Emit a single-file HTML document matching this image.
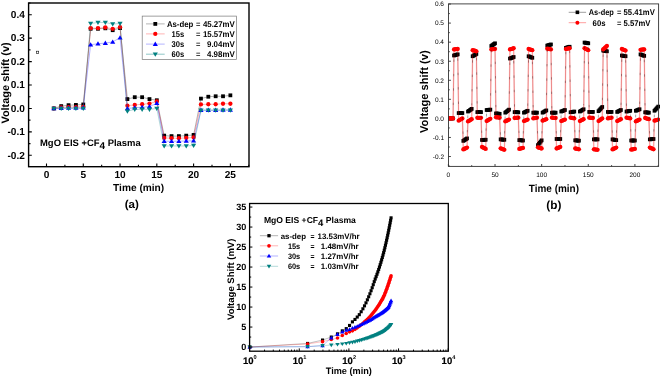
<!DOCTYPE html>
<html lang="en">
<head>
<meta charset="utf-8">
<title>Voltage shift figure</title>
<style>
html,body{margin:0;padding:0;background:#fff;}
body{width:660px;height:377px;overflow:hidden;}
svg{display:block;}
svg text{text-rendering:geometricPrecision;font-family:'Liberation Sans', Arial, sans-serif;font-weight:bold;fill:#000;}
</style>
</head>
<body>
<svg width="660" height="377" viewBox="0 0 660 377" font-family='"Liberation Sans", Arial, sans-serif'>
<rect width="660" height="377" fill="#fff"/>
<g filter="url(#soft)">
<filter id="soft" x="0" y="0" width="100%" height="100%" filterUnits="userSpaceOnUse"><feGaussianBlur stdDeviation="0.35"/></filter>
<path d="M53.86 108.45L61.21 106.11L68.56 105.17L75.92 104.94L83.28 104.47L90.63 28.79L97.98 28.79L105.34 28.32L112.7 30.19L120.05 28.09L127.41 99.08L134.76 97.2L142.12 97.2L149.47 99.08L156.82 100.25L164.18 135.63L171.54 136.1L178.89 136.1L186.25 135.63L193.6 134.93L200.96 98.61L208.31 96.73L215.67 96.27L223.02 96.27L230.38 95.33" fill="none" stroke="#000000" stroke-width="0.5" stroke-opacity="0.6"/>
<g><rect x="51.96" y="106.55" width="3.8" height="3.8" fill="#000000"/><rect x="59.31" y="104.21" width="3.8" height="3.8" fill="#000000"/><rect x="66.66" y="103.27" width="3.8" height="3.8" fill="#000000"/><rect x="74.02" y="103.04" width="3.8" height="3.8" fill="#000000"/><rect x="81.38" y="102.57" width="3.8" height="3.8" fill="#000000"/><rect x="88.73" y="26.89" width="3.8" height="3.8" fill="#000000"/><rect x="96.08" y="26.89" width="3.8" height="3.8" fill="#000000"/><rect x="103.44" y="26.42" width="3.8" height="3.8" fill="#000000"/><rect x="110.8" y="28.29" width="3.8" height="3.8" fill="#000000"/><rect x="118.15" y="26.19" width="3.8" height="3.8" fill="#000000"/><rect x="125.5" y="97.18" width="3.8" height="3.8" fill="#000000"/><rect x="132.86" y="95.3" width="3.8" height="3.8" fill="#000000"/><rect x="140.22" y="95.3" width="3.8" height="3.8" fill="#000000"/><rect x="147.57" y="97.18" width="3.8" height="3.8" fill="#000000"/><rect x="154.92" y="98.35" width="3.8" height="3.8" fill="#000000"/><rect x="162.28" y="133.73" width="3.8" height="3.8" fill="#000000"/><rect x="169.64" y="134.2" width="3.8" height="3.8" fill="#000000"/><rect x="176.99" y="134.2" width="3.8" height="3.8" fill="#000000"/><rect x="184.34" y="133.73" width="3.8" height="3.8" fill="#000000"/><rect x="191.7" y="133.03" width="3.8" height="3.8" fill="#000000"/><rect x="199.06" y="96.71" width="3.8" height="3.8" fill="#000000"/><rect x="206.41" y="94.83" width="3.8" height="3.8" fill="#000000"/><rect x="213.77" y="94.37" width="3.8" height="3.8" fill="#000000"/><rect x="221.12" y="94.37" width="3.8" height="3.8" fill="#000000"/><rect x="228.47" y="93.43" width="3.8" height="3.8" fill="#000000"/></g>
<path d="M53.86 108.45L61.21 107.51L68.56 107.04L75.92 107.04L83.28 106.81L90.63 28.2L97.98 28.2L105.34 27.5L112.7 28.79L120.05 27.15L127.41 105.64L134.76 104.94L142.12 104.23L149.47 103.53L156.82 101.42L164.18 137.97L171.54 138.21L178.89 138.21L186.25 137.97L193.6 137.5L200.96 104.47L208.31 104.23L215.67 104.23L223.02 103.76L230.38 103.76" fill="none" stroke="#ff0000" stroke-width="0.5" stroke-opacity="0.6"/>
<g><circle cx="53.86" cy="108.45" r="2.15" fill="#ff0000"/><circle cx="61.21" cy="107.51" r="2.15" fill="#ff0000"/><circle cx="68.56" cy="107.04" r="2.15" fill="#ff0000"/><circle cx="75.92" cy="107.04" r="2.15" fill="#ff0000"/><circle cx="83.28" cy="106.81" r="2.15" fill="#ff0000"/><circle cx="90.63" cy="28.2" r="2.15" fill="#ff0000"/><circle cx="97.98" cy="28.2" r="2.15" fill="#ff0000"/><circle cx="105.34" cy="27.5" r="2.15" fill="#ff0000"/><circle cx="112.7" cy="28.79" r="2.15" fill="#ff0000"/><circle cx="120.05" cy="27.15" r="2.15" fill="#ff0000"/><circle cx="127.41" cy="105.64" r="2.15" fill="#ff0000"/><circle cx="134.76" cy="104.94" r="2.15" fill="#ff0000"/><circle cx="142.12" cy="104.23" r="2.15" fill="#ff0000"/><circle cx="149.47" cy="103.53" r="2.15" fill="#ff0000"/><circle cx="156.82" cy="101.42" r="2.15" fill="#ff0000"/><circle cx="164.18" cy="137.97" r="2.15" fill="#ff0000"/><circle cx="171.54" cy="138.21" r="2.15" fill="#ff0000"/><circle cx="178.89" cy="138.21" r="2.15" fill="#ff0000"/><circle cx="186.25" cy="137.97" r="2.15" fill="#ff0000"/><circle cx="193.6" cy="137.5" r="2.15" fill="#ff0000"/><circle cx="200.96" cy="104.47" r="2.15" fill="#ff0000"/><circle cx="208.31" cy="104.23" r="2.15" fill="#ff0000"/><circle cx="215.67" cy="104.23" r="2.15" fill="#ff0000"/><circle cx="223.02" cy="103.76" r="2.15" fill="#ff0000"/><circle cx="230.38" cy="103.76" r="2.15" fill="#ff0000"/></g>
<path d="M53.86 108.45L61.21 108.22L68.56 107.98L75.92 107.98L83.28 107.75L90.63 44.72L97.98 43.78L105.34 43.08L112.7 41.91L120.05 37.69L127.41 108.45L134.76 107.75L142.12 107.28L149.47 106.58L156.82 103.3L164.18 141.25L171.54 141.25L178.89 141.25L186.25 141.02L193.6 140.78L200.96 110.09L208.31 110.09L215.67 110.09L223.02 109.86L230.38 109.86" fill="none" stroke="#0000ff" stroke-width="0.5" stroke-opacity="0.6"/>
<g><path d="M51.28 110.26h5.16L53.86 105.96Z" fill="#0000ff"/><path d="M58.63 110.02h5.16L61.21 105.72Z" fill="#0000ff"/><path d="M65.98 109.79h5.16L68.56 105.49Z" fill="#0000ff"/><path d="M73.34 109.79h5.16L75.92 105.49Z" fill="#0000ff"/><path d="M80.7 109.55h5.16L83.28 105.25Z" fill="#0000ff"/><path d="M88.05 46.53h5.16L90.63 42.23Z" fill="#0000ff"/><path d="M95.41 45.59h5.16L97.98 41.29Z" fill="#0000ff"/><path d="M102.76 44.89h5.16L105.34 40.59Z" fill="#0000ff"/><path d="M110.12 43.71h5.16L112.7 39.41Z" fill="#0000ff"/><path d="M117.47 39.5h5.16L120.05 35.2Z" fill="#0000ff"/><path d="M124.83 110.26h5.16L127.41 105.96Z" fill="#0000ff"/><path d="M132.18 109.55h5.16L134.76 105.25Z" fill="#0000ff"/><path d="M139.53 109.08h5.16L142.12 104.78Z" fill="#0000ff"/><path d="M146.89 108.38h5.16L149.47 104.08Z" fill="#0000ff"/><path d="M154.24 105.1h5.16L156.82 100.8Z" fill="#0000ff"/><path d="M161.6 143.06h5.16L164.18 138.76Z" fill="#0000ff"/><path d="M168.96 143.06h5.16L171.54 138.76Z" fill="#0000ff"/><path d="M176.31 143.06h5.16L178.89 138.76Z" fill="#0000ff"/><path d="M183.66 142.82h5.16L186.25 138.52Z" fill="#0000ff"/><path d="M191.02 142.59h5.16L193.6 138.29Z" fill="#0000ff"/><path d="M198.38 111.9h5.16L200.96 107.6Z" fill="#0000ff"/><path d="M205.73 111.9h5.16L208.31 107.6Z" fill="#0000ff"/><path d="M213.09 111.9h5.16L215.67 107.6Z" fill="#0000ff"/><path d="M220.44 111.66h5.16L223.02 107.36Z" fill="#0000ff"/><path d="M227.79 111.66h5.16L230.38 107.36Z" fill="#0000ff"/></g>
<path d="M53.86 108.45L61.21 108.45L68.56 108.45L75.92 108.45L83.28 108.45L90.63 23.49L97.98 22.46L105.34 22.46L112.7 24.1L120.05 23.49L127.41 111.26L134.76 109.39L142.12 109.39L149.47 109.39L156.82 108.45L164.18 145.94L171.54 145.94L178.89 145.94L186.25 145.94L193.6 145.47L200.96 110.32L208.31 110.32L215.67 110.32L223.02 110.32L230.38 110.32" fill="none" stroke="#008080" stroke-width="0.5" stroke-opacity="0.6"/>
<g><path d="M51.28 106.64h5.16L53.86 110.94Z" fill="#008080"/><path d="M58.63 106.64h5.16L61.21 110.94Z" fill="#008080"/><path d="M65.98 106.64h5.16L68.56 110.94Z" fill="#008080"/><path d="M73.34 106.64h5.16L75.92 110.94Z" fill="#008080"/><path d="M80.7 106.64h5.16L83.28 110.94Z" fill="#008080"/><path d="M88.05 21.69h5.16L90.63 25.99Z" fill="#008080"/><path d="M95.41 20.66h5.16L97.98 24.96Z" fill="#008080"/><path d="M102.76 20.66h5.16L105.34 24.96Z" fill="#008080"/><path d="M110.12 22.3h5.16L112.7 26.6Z" fill="#008080"/><path d="M117.47 21.69h5.16L120.05 25.99Z" fill="#008080"/><path d="M124.83 109.46h5.16L127.41 113.76Z" fill="#008080"/><path d="M132.18 107.58h5.16L134.76 111.88Z" fill="#008080"/><path d="M139.53 107.58h5.16L142.12 111.88Z" fill="#008080"/><path d="M146.89 107.58h5.16L149.47 111.88Z" fill="#008080"/><path d="M154.24 106.64h5.16L156.82 110.94Z" fill="#008080"/><path d="M161.6 144.13h5.16L164.18 148.43Z" fill="#008080"/><path d="M168.96 144.13h5.16L171.54 148.43Z" fill="#008080"/><path d="M176.31 144.13h5.16L178.89 148.43Z" fill="#008080"/><path d="M183.66 144.13h5.16L186.25 148.43Z" fill="#008080"/><path d="M191.02 143.66h5.16L193.6 147.96Z" fill="#008080"/><path d="M198.38 108.52h5.16L200.96 112.82Z" fill="#008080"/><path d="M205.73 108.52h5.16L208.31 112.82Z" fill="#008080"/><path d="M213.09 108.52h5.16L215.67 112.82Z" fill="#008080"/><path d="M220.44 108.52h5.16L223.02 112.82Z" fill="#008080"/><path d="M227.79 108.52h5.16L230.38 112.82Z" fill="#008080"/></g>
<rect x="28.6" y="3.0" width="220.4" height="163.7" fill="none" stroke="#000" stroke-width="1.4"/>
<text x="24.9" y="158.61" font-size="10.1" text-anchor="end">-0.2</text>
<text x="24.9" y="135.18" font-size="10.1" text-anchor="end">-0.1</text>
<text x="24.9" y="111.75" font-size="10.1" text-anchor="end">0.0</text>
<text x="24.9" y="88.32" font-size="10.1" text-anchor="end">0.1</text>
<text x="24.9" y="64.89" font-size="10.1" text-anchor="end">0.2</text>
<text x="24.9" y="41.46" font-size="10.1" text-anchor="end">0.3</text>
<text x="24.9" y="18.03" font-size="10.1" text-anchor="end">0.4</text>
<text x="46.5" y="178.2" font-size="10.1" text-anchor="middle">0</text>
<text x="83.28" y="178.2" font-size="10.1" text-anchor="middle">5</text>
<text x="120.05" y="178.2" font-size="10.1" text-anchor="middle">10</text>
<text x="156.82" y="178.2" font-size="10.1" text-anchor="middle">15</text>
<text x="193.6" y="178.2" font-size="10.1" text-anchor="middle">20</text>
<text x="230.38" y="178.2" font-size="10.1" text-anchor="middle">25</text>
<path d="M28.6 155.31h3.2M28.6 131.88h3.2M28.6 108.45h3.2M28.6 85.02h3.2M28.6 61.59h3.2M28.6 38.16h3.2M28.6 14.73h3.2M28.6 143.6h1.9M28.6 120.17h1.9M28.6 96.73h1.9M28.6 73.3h1.9M28.6 49.88h1.9M28.6 26.45h1.9M28.6 3.02h1.9M46.5 166.7v-3.2M83.28 166.7v-3.2M120.05 166.7v-3.2M156.82 166.7v-3.2M193.6 166.7v-3.2M230.38 166.7v-3.2M64.89 166.7v-1.9M101.66 166.7v-1.9M138.44 166.7v-1.9M175.21 166.7v-1.9M211.99 166.7v-1.9M248.76 166.7v-1.9" stroke="#000" stroke-width="1.1" fill="none"/>
<text x="113.1" y="191.2" font-size="10.1" textLength="51.1" lengthAdjust="spacingAndGlyphs">Time (min)</text>
<text x="9.4" y="123.6" font-size="10.8" textLength="81.3" lengthAdjust="spacingAndGlyphs" transform="rotate(-90 9.4 123.6)">Voltage shift (v)</text>
<text x="124.7" y="208.3" font-size="11.4" textLength="14.2" lengthAdjust="spacingAndGlyphs">(a)</text>
<text x="40.0" y="145.5" font-size="9.45">MgO EIS +CF<tspan dy="3.3" font-size="10">4</tspan><tspan dy="-3.3"> Plasma</tspan></text>
<rect x="36.5" y="51.2" width="2.2" height="2.2" fill="#fff" stroke="#111" stroke-width="0.6"/>
<rect x="142.2" y="16.1" width="94.2" height="43.3" fill="#fff" stroke="#777" stroke-width="0.7"/>
<path d="M146 23.9H164.7" stroke="#000000" stroke-width="0.6" stroke-opacity="0.5"/>
<rect x="153.4" y="22" width="3.8" height="3.8" fill="#000000"/>
<text x="166.9" y="26.7" font-size="8.4" textLength="26.4" lengthAdjust="spacingAndGlyphs">As-dep</text>
<text x="195.9" y="26.7" font-size="8.4" textLength="4.4" lengthAdjust="spacingAndGlyphs">=</text>
<text x="202.9" y="26.7" font-size="8.4" textLength="31.9" lengthAdjust="spacingAndGlyphs">45.27mV</text>
<path d="M146 33.9H164.7" stroke="#ff0000" stroke-width="0.6" stroke-opacity="0.5"/>
<circle cx="155.3" cy="33.9" r="2.15" fill="#ff0000"/>
<text x="171.5" y="36.7" font-size="8.4" textLength="12.7" lengthAdjust="spacingAndGlyphs">15s</text>
<text x="195.9" y="36.7" font-size="8.4" textLength="4.4" lengthAdjust="spacingAndGlyphs">=</text>
<text x="202.9" y="36.7" font-size="8.4" textLength="31.9" lengthAdjust="spacingAndGlyphs">15.57mV</text>
<path d="M146 44.1H164.7" stroke="#0000ff" stroke-width="0.6" stroke-opacity="0.5"/>
<path d="M152.72 45.91h5.16L155.3 41.61Z" fill="#0000ff"/>
<text x="171.5" y="46.9" font-size="8.4" textLength="12.7" lengthAdjust="spacingAndGlyphs">30s</text>
<text x="195.9" y="46.9" font-size="8.4" textLength="4.4" lengthAdjust="spacingAndGlyphs">=</text>
<text x="207" y="46.9" font-size="8.4" textLength="27.8" lengthAdjust="spacingAndGlyphs">9.04mV</text>
<path d="M146 54.2H164.7" stroke="#008080" stroke-width="0.6" stroke-opacity="0.75"/>
<path d="M152.72 52.39h5.16L155.3 56.69Z" fill="#008080"/>
<text x="171.5" y="57" font-size="8.4" textLength="12.7" lengthAdjust="spacingAndGlyphs">60s</text>
<text x="195.9" y="57" font-size="8.4" textLength="4.4" lengthAdjust="spacingAndGlyphs">=</text>
<text x="207" y="57" font-size="8.4" textLength="27.8" lengthAdjust="spacingAndGlyphs">4.98mV</text>
<text x="444" y="158.82" font-size="6.5" text-anchor="end" style="font-weight:normal" fill="#111">-0.2</text>
<text x="444" y="139.76" font-size="6.5" text-anchor="end" style="font-weight:normal" fill="#111">-0.1</text>
<text x="444" y="120.7" font-size="6.5" text-anchor="end" style="font-weight:normal" fill="#111">0.0</text>
<text x="444" y="101.64" font-size="6.5" text-anchor="end" style="font-weight:normal" fill="#111">0.1</text>
<text x="444" y="82.58" font-size="6.5" text-anchor="end" style="font-weight:normal" fill="#111">0.2</text>
<text x="444" y="63.52" font-size="6.5" text-anchor="end" style="font-weight:normal" fill="#111">0.3</text>
<text x="444" y="44.46" font-size="6.5" text-anchor="end" style="font-weight:normal" fill="#111">0.4</text>
<text x="444" y="25.4" font-size="6.5" text-anchor="end" style="font-weight:normal" fill="#111">0.5</text>
<text x="444" y="6.34" font-size="6.5" text-anchor="end" style="font-weight:normal" fill="#111">0.6</text>
<text x="448.4" y="177.1" font-size="6.5" text-anchor="middle" style="font-weight:normal" fill="#111">0</text>
<text x="495.02" y="177.1" font-size="6.5" text-anchor="middle" style="font-weight:normal" fill="#111">50</text>
<text x="541.65" y="177.1" font-size="6.5" text-anchor="middle" style="font-weight:normal" fill="#111">100</text>
<text x="588.27" y="177.1" font-size="6.5" text-anchor="middle" style="font-weight:normal" fill="#111">150</text>
<text x="634.9" y="177.1" font-size="6.5" text-anchor="middle" style="font-weight:normal" fill="#111">200</text>
<path d="M448.5 156.52h2.4M448.5 137.46h2.4M448.5 118.4h2.4M448.5 99.34h2.4M448.5 80.28h2.4M448.5 61.22h2.4M448.5 42.16h2.4M448.5 23.1h2.4M448.5 4.04h2.4M448.5 166.05h1.3M448.5 146.99h1.3M448.5 127.93h1.3M448.5 108.87h1.3M448.5 89.81h1.3M448.5 70.75h1.3M448.5 51.69h1.3M448.5 32.63h1.3M448.5 13.57h1.3M448.4 166.4v-2.4M495.02 166.4v-2.4M541.65 166.4v-2.4M588.27 166.4v-2.4M634.9 166.4v-2.4M471.71 166.4v-1.3M518.34 166.4v-1.3M564.96 166.4v-1.3M611.59 166.4v-1.3M658.21 166.4v-1.3" stroke="#222" stroke-width="0.85" fill="none"/>
<clipPath id="cb"><rect x="448.5" y="3.9" width="211.6" height="162.5"/></clipPath><g clip-path="url(#cb)">
<path d="M448.4 118.4L449.33 118.4L450.26 118.4L451.2 118.4L452.13 118.4L453.06 118.4L454 49.4L454.93 49.31L455.86 49.21L456.79 49.12L457.72 49.02L458.66 120.69L459.59 120.12L460.52 119.54L461.45 118.97L462.39 118.4L463.32 149.47L464.25 148.99L465.19 148.51L466.12 148.04L467.05 147.56L467.98 121.45L468.91 120.88L469.85 120.31L470.78 119.73L471.71 119.16L472.64 50.17L473.58 50.45L474.51 50.74L475.44 51.02L476.38 51.31L477.31 117.83L478.24 117.83L479.17 117.83L480.1 117.83L481.04 117.83L481.97 146.99L482.9 147.47L483.83 147.94L484.77 148.42L485.7 148.9L486.63 121.07L487.56 120.5L488.5 119.92L489.43 119.35L490.36 118.78L491.29 49.4L492.23 49.31L493.16 49.21L494.09 49.12L495.02 49.02L495.96 117.26L496.89 117.35L497.82 117.45L498.75 117.54L499.69 117.64L500.62 148.32L501.55 148.71L502.48 149.09L503.42 149.47L504.35 149.85L505.28 121.45L506.21 120.97L507.15 120.5L508.08 120.02L509.01 119.54L509.94 49.4L510.88 49.12L511.81 48.83L512.74 48.55L513.67 48.26L514.61 118.02L515.54 117.92L516.47 117.83L517.4 117.73L518.34 117.64L519.27 148.9L520.2 148.66L521.13 148.42L522.07 148.18L523 147.94L523.93 121.07L524.87 120.69L525.8 120.31L526.73 119.92L527.66 119.54L528.6 49.02L529.53 49.31L530.46 49.59L531.39 49.88L532.32 50.17L533.26 118.4L534.19 118.21L535.12 118.02L536.05 117.83L536.99 117.64L537.92 147.37L538.85 147.66L539.78 147.94L540.72 148.23L541.65 148.51L542.58 120.69L543.51 120.31L544.45 119.92L545.38 119.54L546.31 119.16L547.25 48.64L548.18 48.83L549.11 49.02L550.04 49.21L550.98 49.4L551.91 117.64L552.84 117.73L553.77 117.83L554.7 117.92L555.64 118.02L556.57 148.51L557.5 148.13L558.43 147.75L559.37 147.37L560.3 146.99L561.23 121.07L562.16 120.69L563.1 120.31L564.03 119.92L564.96 119.54L565.89 49.02L566.83 48.83L567.76 48.64L568.69 48.45L569.62 48.26L570.56 117.64L571.49 117.83L572.42 118.02L573.36 118.21L574.29 118.4L575.22 148.51L576.15 148.71L577.09 148.9L578.02 149.09L578.95 149.28L579.88 121.07L580.81 120.59L581.75 120.12L582.68 119.64L583.61 119.16L584.54 48.26L585.48 48.74L586.41 49.21L587.34 49.69L588.27 50.17L589.21 117.64L590.14 117.73L591.07 117.83L592 117.92L592.94 118.02L593.87 149.28L594.8 149.42L595.74 149.56L596.67 149.71L597.6 149.85L598.53 121.07L599.46 120.4L600.4 119.73L601.33 119.07L602.26 118.4L603.19 49.4L604.13 48.55L605.06 47.69L605.99 46.83L606.92 45.97L607.86 118.4L608.79 118.21L609.72 118.02L610.65 117.83L611.59 117.64L612.52 149.47L613.45 148.99L614.38 148.51L615.32 148.04L616.25 147.56L617.18 121.07L618.12 120.59L619.05 120.12L619.98 119.64L620.91 119.16L621.85 49.02L622.78 49.4L623.71 49.78L624.64 50.17L625.58 50.55L626.51 117.64L627.44 117.83L628.37 118.02L629.3 118.21L630.24 118.4L631.17 149.66L632.1 149.47L633.03 149.28L633.97 149.09L634.9 148.9L635.83 121.45L636.76 120.97L637.7 120.5L638.63 120.02L639.56 119.54L640.5 49.78L641.43 49.69L642.36 49.59L643.29 49.5L644.22 49.4L645.16 118.02L646.09 118.3L647.02 118.59L647.95 118.88L648.89 119.16L649.82 147.56L650.75 147.99L651.68 148.42L652.62 148.85L653.55 149.28L654.48 120.69L655.41 120.4L656.35 120.12L657.28 119.83L658.21 119.54" fill="none" stroke="#f00" stroke-width="1.6" stroke-opacity="0.16"/>
<path d="M448.4 118.4L449.33 118.4L450.26 118.4L451.2 118.4L452.13 118.4L453.06 118.4L454 55.5L454.93 55.22L455.86 54.93L456.79 54.64L457.72 54.36L458.66 113.06L459.59 113.06L460.52 113.06L461.45 113.06L462.39 113.06L463.32 140.89L464.25 140.27L465.19 139.65L466.12 139.03L467.05 138.41L467.98 111.54L468.91 110.87L469.85 110.2L470.78 109.54L471.71 108.87L472.64 56.26L473.58 55.69L474.51 55.12L475.44 54.55L476.38 53.98L477.31 112.11L478.24 112.11L479.17 112.11L480.1 112.11L481.04 112.11L481.97 139.94L482.9 139.89L483.83 139.84L484.77 139.79L485.7 139.75L486.63 110.01L487.56 109.92L488.5 109.82L489.43 109.73L490.36 109.63L491.29 45.97L492.23 45.3L493.16 44.64L494.09 43.97L495.02 43.3L495.96 113.44L496.89 113.54L497.82 113.64L498.75 113.73L499.69 113.83L500.62 139.37L501.55 139.46L502.48 139.56L503.42 139.65L504.35 139.75L505.28 112.68L506.21 111.92L507.15 111.16L508.08 110.39L509.01 109.63L509.94 58.55L510.88 58.17L511.81 57.79L512.74 57.41L513.67 57.03L514.61 112.11L515.54 112.16L516.47 112.21L517.4 112.25L518.34 112.3L519.27 140.13L520.2 140.22L521.13 140.32L522.07 140.41L523 140.51L523.93 112.68L524.87 112.21L525.8 111.73L526.73 111.25L527.66 110.78L528.6 56.26L529.53 56.65L530.46 57.03L531.39 57.41L532.32 57.79L533.26 112.68L534.19 112.68L535.12 112.68L536.05 112.68L536.99 112.68L537.92 145.08L538.85 143.89L539.78 142.7L540.72 141.51L541.65 140.32L542.58 112.68L543.51 112.11L544.45 111.54L545.38 110.97L546.31 110.39L547.25 45.59L548.18 45.3L549.11 45.02L550.04 44.73L550.98 44.45L551.91 112.68L552.84 112.68L553.77 112.68L554.7 112.68L555.64 112.68L556.57 138.98L557.5 138.98L558.43 138.98L559.37 138.98L560.3 138.98L561.23 111.54L562.16 111.16L563.1 110.78L564.03 110.39L564.96 110.01L565.89 47.88L566.83 47.59L567.76 47.31L568.69 47.02L569.62 46.73L570.56 112.3L571.49 112.11L572.42 111.92L573.36 111.73L574.29 111.54L575.22 140.32L576.15 140.41L577.09 140.51L578.02 140.6L578.95 140.7L579.88 111.54L580.81 110.97L581.75 110.39L582.68 109.82L583.61 109.25L584.54 42.54L585.48 42.73L586.41 42.92L587.34 43.11L588.27 43.3L589.21 111.92L590.14 111.92L591.07 111.92L592 111.92L592.94 111.92L593.87 139.37L594.8 139.37L595.74 139.37L596.67 139.37L597.6 139.37L598.53 111.16L599.46 110.11L600.4 109.06L601.33 108.01L602.26 106.96L603.19 50.55L604.13 50.74L605.06 50.93L605.99 51.12L606.92 51.31L607.86 111.92L608.79 111.92L609.72 111.92L610.65 111.92L611.59 111.92L612.52 139.37L613.45 139.56L614.38 139.75L615.32 139.94L616.25 140.13L617.18 111.92L618.12 111.44L619.05 110.97L619.98 110.49L620.91 110.01L621.85 55.5L622.78 55.69L623.71 55.88L624.64 56.07L625.58 56.26L626.51 111.54L627.44 111.35L628.37 111.16L629.3 110.97L630.24 110.78L631.17 140.51L632.1 140.51L633.03 140.51L633.97 140.51L634.9 140.51L635.83 110.78L636.76 110.39L637.7 110.01L638.63 109.63L639.56 109.25L640.5 54.36L641.43 54.74L642.36 55.12L643.29 55.5L644.22 55.88L645.16 112.3L646.09 112.4L647.02 112.49L647.95 112.59L648.89 112.68L649.82 139.37L650.75 139.27L651.68 139.18L652.62 139.08L653.55 138.98L654.48 110.78L655.41 109.73L656.35 108.68L657.28 107.63L658.21 106.58" fill="none" stroke="#000000" stroke-width="0.35" stroke-opacity="0.3"/>
<g><rect x="446.55" y="116.55" width="3.7" height="3.7" fill="#000000"/><rect x="447.48" y="116.55" width="3.7" height="3.7" fill="#000000"/><rect x="448.41" y="116.55" width="3.7" height="3.7" fill="#000000"/><rect x="449.35" y="116.55" width="3.7" height="3.7" fill="#000000"/><rect x="450.28" y="116.55" width="3.7" height="3.7" fill="#000000"/><rect x="451.21" y="116.55" width="3.7" height="3.7" fill="#000000"/><rect x="452.14" y="53.65" width="3.7" height="3.7" fill="#000000"/><rect x="453.08" y="53.37" width="3.7" height="3.7" fill="#000000"/><rect x="454.01" y="53.08" width="3.7" height="3.7" fill="#000000"/><rect x="454.94" y="52.79" width="3.7" height="3.7" fill="#000000"/><rect x="455.87" y="52.51" width="3.7" height="3.7" fill="#000000"/><rect x="456.81" y="111.21" width="3.7" height="3.7" fill="#000000"/><rect x="457.74" y="111.21" width="3.7" height="3.7" fill="#000000"/><rect x="458.67" y="111.21" width="3.7" height="3.7" fill="#000000"/><rect x="459.6" y="111.21" width="3.7" height="3.7" fill="#000000"/><rect x="460.54" y="111.21" width="3.7" height="3.7" fill="#000000"/><rect x="461.47" y="139.04" width="3.7" height="3.7" fill="#000000"/><rect x="462.4" y="138.42" width="3.7" height="3.7" fill="#000000"/><rect x="463.33" y="137.8" width="3.7" height="3.7" fill="#000000"/><rect x="464.27" y="137.18" width="3.7" height="3.7" fill="#000000"/><rect x="465.2" y="136.56" width="3.7" height="3.7" fill="#000000"/><rect x="466.13" y="109.69" width="3.7" height="3.7" fill="#000000"/><rect x="467.06" y="109.02" width="3.7" height="3.7" fill="#000000"/><rect x="468" y="108.35" width="3.7" height="3.7" fill="#000000"/><rect x="468.93" y="107.69" width="3.7" height="3.7" fill="#000000"/><rect x="469.86" y="107.02" width="3.7" height="3.7" fill="#000000"/><rect x="470.79" y="54.41" width="3.7" height="3.7" fill="#000000"/><rect x="471.73" y="53.84" width="3.7" height="3.7" fill="#000000"/><rect x="472.66" y="53.27" width="3.7" height="3.7" fill="#000000"/><rect x="473.59" y="52.7" width="3.7" height="3.7" fill="#000000"/><rect x="474.52" y="52.13" width="3.7" height="3.7" fill="#000000"/><rect x="475.46" y="110.26" width="3.7" height="3.7" fill="#000000"/><rect x="476.39" y="110.26" width="3.7" height="3.7" fill="#000000"/><rect x="477.32" y="110.26" width="3.7" height="3.7" fill="#000000"/><rect x="478.25" y="110.26" width="3.7" height="3.7" fill="#000000"/><rect x="479.19" y="110.26" width="3.7" height="3.7" fill="#000000"/><rect x="480.12" y="138.09" width="3.7" height="3.7" fill="#000000"/><rect x="481.05" y="138.04" width="3.7" height="3.7" fill="#000000"/><rect x="481.98" y="137.99" width="3.7" height="3.7" fill="#000000"/><rect x="482.92" y="137.94" width="3.7" height="3.7" fill="#000000"/><rect x="483.85" y="137.9" width="3.7" height="3.7" fill="#000000"/><rect x="484.78" y="108.16" width="3.7" height="3.7" fill="#000000"/><rect x="485.71" y="108.07" width="3.7" height="3.7" fill="#000000"/><rect x="486.65" y="107.97" width="3.7" height="3.7" fill="#000000"/><rect x="487.58" y="107.88" width="3.7" height="3.7" fill="#000000"/><rect x="488.51" y="107.78" width="3.7" height="3.7" fill="#000000"/><rect x="489.44" y="44.12" width="3.7" height="3.7" fill="#000000"/><rect x="490.38" y="43.45" width="3.7" height="3.7" fill="#000000"/><rect x="491.31" y="42.79" width="3.7" height="3.7" fill="#000000"/><rect x="492.24" y="42.12" width="3.7" height="3.7" fill="#000000"/><rect x="493.17" y="41.45" width="3.7" height="3.7" fill="#000000"/><rect x="494.11" y="111.59" width="3.7" height="3.7" fill="#000000"/><rect x="495.04" y="111.69" width="3.7" height="3.7" fill="#000000"/><rect x="495.97" y="111.79" width="3.7" height="3.7" fill="#000000"/><rect x="496.9" y="111.88" width="3.7" height="3.7" fill="#000000"/><rect x="497.84" y="111.98" width="3.7" height="3.7" fill="#000000"/><rect x="498.77" y="137.52" width="3.7" height="3.7" fill="#000000"/><rect x="499.7" y="137.61" width="3.7" height="3.7" fill="#000000"/><rect x="500.63" y="137.71" width="3.7" height="3.7" fill="#000000"/><rect x="501.57" y="137.8" width="3.7" height="3.7" fill="#000000"/><rect x="502.5" y="137.9" width="3.7" height="3.7" fill="#000000"/><rect x="503.43" y="110.83" width="3.7" height="3.7" fill="#000000"/><rect x="504.36" y="110.07" width="3.7" height="3.7" fill="#000000"/><rect x="505.3" y="109.31" width="3.7" height="3.7" fill="#000000"/><rect x="506.23" y="108.54" width="3.7" height="3.7" fill="#000000"/><rect x="507.16" y="107.78" width="3.7" height="3.7" fill="#000000"/><rect x="508.09" y="56.7" width="3.7" height="3.7" fill="#000000"/><rect x="509.03" y="56.32" width="3.7" height="3.7" fill="#000000"/><rect x="509.96" y="55.94" width="3.7" height="3.7" fill="#000000"/><rect x="510.89" y="55.56" width="3.7" height="3.7" fill="#000000"/><rect x="511.82" y="55.18" width="3.7" height="3.7" fill="#000000"/><rect x="512.76" y="110.26" width="3.7" height="3.7" fill="#000000"/><rect x="513.69" y="110.31" width="3.7" height="3.7" fill="#000000"/><rect x="514.62" y="110.36" width="3.7" height="3.7" fill="#000000"/><rect x="515.55" y="110.4" width="3.7" height="3.7" fill="#000000"/><rect x="516.49" y="110.45" width="3.7" height="3.7" fill="#000000"/><rect x="517.42" y="138.28" width="3.7" height="3.7" fill="#000000"/><rect x="518.35" y="138.37" width="3.7" height="3.7" fill="#000000"/><rect x="519.28" y="138.47" width="3.7" height="3.7" fill="#000000"/><rect x="520.22" y="138.56" width="3.7" height="3.7" fill="#000000"/><rect x="521.15" y="138.66" width="3.7" height="3.7" fill="#000000"/><rect x="522.08" y="110.83" width="3.7" height="3.7" fill="#000000"/><rect x="523.01" y="110.36" width="3.7" height="3.7" fill="#000000"/><rect x="523.95" y="109.88" width="3.7" height="3.7" fill="#000000"/><rect x="524.88" y="109.4" width="3.7" height="3.7" fill="#000000"/><rect x="525.81" y="108.93" width="3.7" height="3.7" fill="#000000"/><rect x="526.75" y="54.41" width="3.7" height="3.7" fill="#000000"/><rect x="527.68" y="54.8" width="3.7" height="3.7" fill="#000000"/><rect x="528.61" y="55.18" width="3.7" height="3.7" fill="#000000"/><rect x="529.54" y="55.56" width="3.7" height="3.7" fill="#000000"/><rect x="530.47" y="55.94" width="3.7" height="3.7" fill="#000000"/><rect x="531.41" y="110.83" width="3.7" height="3.7" fill="#000000"/><rect x="532.34" y="110.83" width="3.7" height="3.7" fill="#000000"/><rect x="533.27" y="110.83" width="3.7" height="3.7" fill="#000000"/><rect x="534.2" y="110.83" width="3.7" height="3.7" fill="#000000"/><rect x="535.14" y="110.83" width="3.7" height="3.7" fill="#000000"/><rect x="536.07" y="143.23" width="3.7" height="3.7" fill="#000000"/><rect x="537" y="142.04" width="3.7" height="3.7" fill="#000000"/><rect x="537.93" y="140.85" width="3.7" height="3.7" fill="#000000"/><rect x="538.87" y="139.66" width="3.7" height="3.7" fill="#000000"/><rect x="539.8" y="138.47" width="3.7" height="3.7" fill="#000000"/><rect x="540.73" y="110.83" width="3.7" height="3.7" fill="#000000"/><rect x="541.66" y="110.26" width="3.7" height="3.7" fill="#000000"/><rect x="542.6" y="109.69" width="3.7" height="3.7" fill="#000000"/><rect x="543.53" y="109.12" width="3.7" height="3.7" fill="#000000"/><rect x="544.46" y="108.54" width="3.7" height="3.7" fill="#000000"/><rect x="545.39" y="43.74" width="3.7" height="3.7" fill="#000000"/><rect x="546.33" y="43.45" width="3.7" height="3.7" fill="#000000"/><rect x="547.26" y="43.17" width="3.7" height="3.7" fill="#000000"/><rect x="548.19" y="42.88" width="3.7" height="3.7" fill="#000000"/><rect x="549.12" y="42.6" width="3.7" height="3.7" fill="#000000"/><rect x="550.06" y="110.83" width="3.7" height="3.7" fill="#000000"/><rect x="550.99" y="110.83" width="3.7" height="3.7" fill="#000000"/><rect x="551.92" y="110.83" width="3.7" height="3.7" fill="#000000"/><rect x="552.85" y="110.83" width="3.7" height="3.7" fill="#000000"/><rect x="553.79" y="110.83" width="3.7" height="3.7" fill="#000000"/><rect x="554.72" y="137.13" width="3.7" height="3.7" fill="#000000"/><rect x="555.65" y="137.13" width="3.7" height="3.7" fill="#000000"/><rect x="556.58" y="137.13" width="3.7" height="3.7" fill="#000000"/><rect x="557.52" y="137.13" width="3.7" height="3.7" fill="#000000"/><rect x="558.45" y="137.13" width="3.7" height="3.7" fill="#000000"/><rect x="559.38" y="109.69" width="3.7" height="3.7" fill="#000000"/><rect x="560.31" y="109.31" width="3.7" height="3.7" fill="#000000"/><rect x="561.25" y="108.93" width="3.7" height="3.7" fill="#000000"/><rect x="562.18" y="108.54" width="3.7" height="3.7" fill="#000000"/><rect x="563.11" y="108.16" width="3.7" height="3.7" fill="#000000"/><rect x="564.04" y="46.03" width="3.7" height="3.7" fill="#000000"/><rect x="564.98" y="45.74" width="3.7" height="3.7" fill="#000000"/><rect x="565.91" y="45.46" width="3.7" height="3.7" fill="#000000"/><rect x="566.84" y="45.17" width="3.7" height="3.7" fill="#000000"/><rect x="567.77" y="44.88" width="3.7" height="3.7" fill="#000000"/><rect x="568.71" y="110.45" width="3.7" height="3.7" fill="#000000"/><rect x="569.64" y="110.26" width="3.7" height="3.7" fill="#000000"/><rect x="570.57" y="110.07" width="3.7" height="3.7" fill="#000000"/><rect x="571.5" y="109.88" width="3.7" height="3.7" fill="#000000"/><rect x="572.44" y="109.69" width="3.7" height="3.7" fill="#000000"/><rect x="573.37" y="138.47" width="3.7" height="3.7" fill="#000000"/><rect x="574.3" y="138.56" width="3.7" height="3.7" fill="#000000"/><rect x="575.24" y="138.66" width="3.7" height="3.7" fill="#000000"/><rect x="576.17" y="138.75" width="3.7" height="3.7" fill="#000000"/><rect x="577.1" y="138.85" width="3.7" height="3.7" fill="#000000"/><rect x="578.03" y="109.69" width="3.7" height="3.7" fill="#000000"/><rect x="578.96" y="109.12" width="3.7" height="3.7" fill="#000000"/><rect x="579.9" y="108.54" width="3.7" height="3.7" fill="#000000"/><rect x="580.83" y="107.97" width="3.7" height="3.7" fill="#000000"/><rect x="581.76" y="107.4" width="3.7" height="3.7" fill="#000000"/><rect x="582.69" y="40.69" width="3.7" height="3.7" fill="#000000"/><rect x="583.63" y="40.88" width="3.7" height="3.7" fill="#000000"/><rect x="584.56" y="41.07" width="3.7" height="3.7" fill="#000000"/><rect x="585.49" y="41.26" width="3.7" height="3.7" fill="#000000"/><rect x="586.42" y="41.45" width="3.7" height="3.7" fill="#000000"/><rect x="587.36" y="110.07" width="3.7" height="3.7" fill="#000000"/><rect x="588.29" y="110.07" width="3.7" height="3.7" fill="#000000"/><rect x="589.22" y="110.07" width="3.7" height="3.7" fill="#000000"/><rect x="590.15" y="110.07" width="3.7" height="3.7" fill="#000000"/><rect x="591.09" y="110.07" width="3.7" height="3.7" fill="#000000"/><rect x="592.02" y="137.52" width="3.7" height="3.7" fill="#000000"/><rect x="592.95" y="137.52" width="3.7" height="3.7" fill="#000000"/><rect x="593.88" y="137.52" width="3.7" height="3.7" fill="#000000"/><rect x="594.82" y="137.52" width="3.7" height="3.7" fill="#000000"/><rect x="595.75" y="137.52" width="3.7" height="3.7" fill="#000000"/><rect x="596.68" y="109.31" width="3.7" height="3.7" fill="#000000"/><rect x="597.61" y="108.26" width="3.7" height="3.7" fill="#000000"/><rect x="598.55" y="107.21" width="3.7" height="3.7" fill="#000000"/><rect x="599.48" y="106.16" width="3.7" height="3.7" fill="#000000"/><rect x="600.41" y="105.11" width="3.7" height="3.7" fill="#000000"/><rect x="601.34" y="48.7" width="3.7" height="3.7" fill="#000000"/><rect x="602.28" y="48.89" width="3.7" height="3.7" fill="#000000"/><rect x="603.21" y="49.08" width="3.7" height="3.7" fill="#000000"/><rect x="604.14" y="49.27" width="3.7" height="3.7" fill="#000000"/><rect x="605.07" y="49.46" width="3.7" height="3.7" fill="#000000"/><rect x="606.01" y="110.07" width="3.7" height="3.7" fill="#000000"/><rect x="606.94" y="110.07" width="3.7" height="3.7" fill="#000000"/><rect x="607.87" y="110.07" width="3.7" height="3.7" fill="#000000"/><rect x="608.8" y="110.07" width="3.7" height="3.7" fill="#000000"/><rect x="609.74" y="110.07" width="3.7" height="3.7" fill="#000000"/><rect x="610.67" y="137.52" width="3.7" height="3.7" fill="#000000"/><rect x="611.6" y="137.71" width="3.7" height="3.7" fill="#000000"/><rect x="612.53" y="137.9" width="3.7" height="3.7" fill="#000000"/><rect x="613.47" y="138.09" width="3.7" height="3.7" fill="#000000"/><rect x="614.4" y="138.28" width="3.7" height="3.7" fill="#000000"/><rect x="615.33" y="110.07" width="3.7" height="3.7" fill="#000000"/><rect x="616.26" y="109.59" width="3.7" height="3.7" fill="#000000"/><rect x="617.2" y="109.12" width="3.7" height="3.7" fill="#000000"/><rect x="618.13" y="108.64" width="3.7" height="3.7" fill="#000000"/><rect x="619.06" y="108.16" width="3.7" height="3.7" fill="#000000"/><rect x="620" y="53.65" width="3.7" height="3.7" fill="#000000"/><rect x="620.93" y="53.84" width="3.7" height="3.7" fill="#000000"/><rect x="621.86" y="54.03" width="3.7" height="3.7" fill="#000000"/><rect x="622.79" y="54.22" width="3.7" height="3.7" fill="#000000"/><rect x="623.73" y="54.41" width="3.7" height="3.7" fill="#000000"/><rect x="624.66" y="109.69" width="3.7" height="3.7" fill="#000000"/><rect x="625.59" y="109.5" width="3.7" height="3.7" fill="#000000"/><rect x="626.52" y="109.31" width="3.7" height="3.7" fill="#000000"/><rect x="627.45" y="109.12" width="3.7" height="3.7" fill="#000000"/><rect x="628.39" y="108.93" width="3.7" height="3.7" fill="#000000"/><rect x="629.32" y="138.66" width="3.7" height="3.7" fill="#000000"/><rect x="630.25" y="138.66" width="3.7" height="3.7" fill="#000000"/><rect x="631.18" y="138.66" width="3.7" height="3.7" fill="#000000"/><rect x="632.12" y="138.66" width="3.7" height="3.7" fill="#000000"/><rect x="633.05" y="138.66" width="3.7" height="3.7" fill="#000000"/><rect x="633.98" y="108.93" width="3.7" height="3.7" fill="#000000"/><rect x="634.91" y="108.54" width="3.7" height="3.7" fill="#000000"/><rect x="635.85" y="108.16" width="3.7" height="3.7" fill="#000000"/><rect x="636.78" y="107.78" width="3.7" height="3.7" fill="#000000"/><rect x="637.71" y="107.4" width="3.7" height="3.7" fill="#000000"/><rect x="638.64" y="52.51" width="3.7" height="3.7" fill="#000000"/><rect x="639.58" y="52.89" width="3.7" height="3.7" fill="#000000"/><rect x="640.51" y="53.27" width="3.7" height="3.7" fill="#000000"/><rect x="641.44" y="53.65" width="3.7" height="3.7" fill="#000000"/><rect x="642.37" y="54.03" width="3.7" height="3.7" fill="#000000"/><rect x="643.31" y="110.45" width="3.7" height="3.7" fill="#000000"/><rect x="644.24" y="110.55" width="3.7" height="3.7" fill="#000000"/><rect x="645.17" y="110.64" width="3.7" height="3.7" fill="#000000"/><rect x="646.1" y="110.74" width="3.7" height="3.7" fill="#000000"/><rect x="647.04" y="110.83" width="3.7" height="3.7" fill="#000000"/><rect x="647.97" y="137.52" width="3.7" height="3.7" fill="#000000"/><rect x="648.9" y="137.42" width="3.7" height="3.7" fill="#000000"/><rect x="649.83" y="137.33" width="3.7" height="3.7" fill="#000000"/><rect x="650.77" y="137.23" width="3.7" height="3.7" fill="#000000"/><rect x="651.7" y="137.13" width="3.7" height="3.7" fill="#000000"/><rect x="652.63" y="108.93" width="3.7" height="3.7" fill="#000000"/><rect x="653.56" y="107.88" width="3.7" height="3.7" fill="#000000"/><rect x="654.5" y="106.83" width="3.7" height="3.7" fill="#000000"/><rect x="655.43" y="105.78" width="3.7" height="3.7" fill="#000000"/><rect x="656.36" y="104.73" width="3.7" height="3.7" fill="#000000"/></g>
<path d="M448.4 118.4L449.33 118.4L450.26 118.4L451.2 118.4L452.13 118.4L453.06 118.4L454 49.4L454.93 49.31L455.86 49.21L456.79 49.12L457.72 49.02L458.66 120.69L459.59 120.12L460.52 119.54L461.45 118.97L462.39 118.4L463.32 149.47L464.25 148.99L465.19 148.51L466.12 148.04L467.05 147.56L467.98 121.45L468.91 120.88L469.85 120.31L470.78 119.73L471.71 119.16L472.64 50.17L473.58 50.45L474.51 50.74L475.44 51.02L476.38 51.31L477.31 117.83L478.24 117.83L479.17 117.83L480.1 117.83L481.04 117.83L481.97 146.99L482.9 147.47L483.83 147.94L484.77 148.42L485.7 148.9L486.63 121.07L487.56 120.5L488.5 119.92L489.43 119.35L490.36 118.78L491.29 49.4L492.23 49.31L493.16 49.21L494.09 49.12L495.02 49.02L495.96 117.26L496.89 117.35L497.82 117.45L498.75 117.54L499.69 117.64L500.62 148.32L501.55 148.71L502.48 149.09L503.42 149.47L504.35 149.85L505.28 121.45L506.21 120.97L507.15 120.5L508.08 120.02L509.01 119.54L509.94 49.4L510.88 49.12L511.81 48.83L512.74 48.55L513.67 48.26L514.61 118.02L515.54 117.92L516.47 117.83L517.4 117.73L518.34 117.64L519.27 148.9L520.2 148.66L521.13 148.42L522.07 148.18L523 147.94L523.93 121.07L524.87 120.69L525.8 120.31L526.73 119.92L527.66 119.54L528.6 49.02L529.53 49.31L530.46 49.59L531.39 49.88L532.32 50.17L533.26 118.4L534.19 118.21L535.12 118.02L536.05 117.83L536.99 117.64L537.92 147.37L538.85 147.66L539.78 147.94L540.72 148.23L541.65 148.51L542.58 120.69L543.51 120.31L544.45 119.92L545.38 119.54L546.31 119.16L547.25 48.64L548.18 48.83L549.11 49.02L550.04 49.21L550.98 49.4L551.91 117.64L552.84 117.73L553.77 117.83L554.7 117.92L555.64 118.02L556.57 148.51L557.5 148.13L558.43 147.75L559.37 147.37L560.3 146.99L561.23 121.07L562.16 120.69L563.1 120.31L564.03 119.92L564.96 119.54L565.89 49.02L566.83 48.83L567.76 48.64L568.69 48.45L569.62 48.26L570.56 117.64L571.49 117.83L572.42 118.02L573.36 118.21L574.29 118.4L575.22 148.51L576.15 148.71L577.09 148.9L578.02 149.09L578.95 149.28L579.88 121.07L580.81 120.59L581.75 120.12L582.68 119.64L583.61 119.16L584.54 48.26L585.48 48.74L586.41 49.21L587.34 49.69L588.27 50.17L589.21 117.64L590.14 117.73L591.07 117.83L592 117.92L592.94 118.02L593.87 149.28L594.8 149.42L595.74 149.56L596.67 149.71L597.6 149.85L598.53 121.07L599.46 120.4L600.4 119.73L601.33 119.07L602.26 118.4L603.19 49.4L604.13 48.55L605.06 47.69L605.99 46.83L606.92 45.97L607.86 118.4L608.79 118.21L609.72 118.02L610.65 117.83L611.59 117.64L612.52 149.47L613.45 148.99L614.38 148.51L615.32 148.04L616.25 147.56L617.18 121.07L618.12 120.59L619.05 120.12L619.98 119.64L620.91 119.16L621.85 49.02L622.78 49.4L623.71 49.78L624.64 50.17L625.58 50.55L626.51 117.64L627.44 117.83L628.37 118.02L629.3 118.21L630.24 118.4L631.17 149.66L632.1 149.47L633.03 149.28L633.97 149.09L634.9 148.9L635.83 121.45L636.76 120.97L637.7 120.5L638.63 120.02L639.56 119.54L640.5 49.78L641.43 49.69L642.36 49.59L643.29 49.5L644.22 49.4L645.16 118.02L646.09 118.3L647.02 118.59L647.95 118.88L648.89 119.16L649.82 147.56L650.75 147.99L651.68 148.42L652.62 148.85L653.55 149.28L654.48 120.69L655.41 120.4L656.35 120.12L657.28 119.83L658.21 119.54" fill="none" stroke="#ff0000" stroke-width="0.5" stroke-opacity="0.6"/>
<g><circle cx="448.4" cy="118.4" r="2.15" fill="#ff0000"/><circle cx="449.33" cy="118.4" r="2.15" fill="#ff0000"/><circle cx="450.26" cy="118.4" r="2.15" fill="#ff0000"/><circle cx="451.2" cy="118.4" r="2.15" fill="#ff0000"/><circle cx="452.13" cy="118.4" r="2.15" fill="#ff0000"/><circle cx="453.06" cy="118.4" r="2.15" fill="#ff0000"/><circle cx="454" cy="49.4" r="2.15" fill="#ff0000"/><circle cx="454.93" cy="49.31" r="2.15" fill="#ff0000"/><circle cx="455.86" cy="49.21" r="2.15" fill="#ff0000"/><circle cx="456.79" cy="49.12" r="2.15" fill="#ff0000"/><circle cx="457.72" cy="49.02" r="2.15" fill="#ff0000"/><circle cx="458.66" cy="120.69" r="2.15" fill="#ff0000"/><circle cx="459.59" cy="120.12" r="2.15" fill="#ff0000"/><circle cx="460.52" cy="119.54" r="2.15" fill="#ff0000"/><circle cx="461.45" cy="118.97" r="2.15" fill="#ff0000"/><circle cx="462.39" cy="118.4" r="2.15" fill="#ff0000"/><circle cx="463.32" cy="149.47" r="2.15" fill="#ff0000"/><circle cx="464.25" cy="148.99" r="2.15" fill="#ff0000"/><circle cx="465.19" cy="148.51" r="2.15" fill="#ff0000"/><circle cx="466.12" cy="148.04" r="2.15" fill="#ff0000"/><circle cx="467.05" cy="147.56" r="2.15" fill="#ff0000"/><circle cx="467.98" cy="121.45" r="2.15" fill="#ff0000"/><circle cx="468.91" cy="120.88" r="2.15" fill="#ff0000"/><circle cx="469.85" cy="120.31" r="2.15" fill="#ff0000"/><circle cx="470.78" cy="119.73" r="2.15" fill="#ff0000"/><circle cx="471.71" cy="119.16" r="2.15" fill="#ff0000"/><circle cx="472.64" cy="50.17" r="2.15" fill="#ff0000"/><circle cx="473.58" cy="50.45" r="2.15" fill="#ff0000"/><circle cx="474.51" cy="50.74" r="2.15" fill="#ff0000"/><circle cx="475.44" cy="51.02" r="2.15" fill="#ff0000"/><circle cx="476.38" cy="51.31" r="2.15" fill="#ff0000"/><circle cx="477.31" cy="117.83" r="2.15" fill="#ff0000"/><circle cx="478.24" cy="117.83" r="2.15" fill="#ff0000"/><circle cx="479.17" cy="117.83" r="2.15" fill="#ff0000"/><circle cx="480.1" cy="117.83" r="2.15" fill="#ff0000"/><circle cx="481.04" cy="117.83" r="2.15" fill="#ff0000"/><circle cx="481.97" cy="146.99" r="2.15" fill="#ff0000"/><circle cx="482.9" cy="147.47" r="2.15" fill="#ff0000"/><circle cx="483.83" cy="147.94" r="2.15" fill="#ff0000"/><circle cx="484.77" cy="148.42" r="2.15" fill="#ff0000"/><circle cx="485.7" cy="148.9" r="2.15" fill="#ff0000"/><circle cx="486.63" cy="121.07" r="2.15" fill="#ff0000"/><circle cx="487.56" cy="120.5" r="2.15" fill="#ff0000"/><circle cx="488.5" cy="119.92" r="2.15" fill="#ff0000"/><circle cx="489.43" cy="119.35" r="2.15" fill="#ff0000"/><circle cx="490.36" cy="118.78" r="2.15" fill="#ff0000"/><circle cx="491.29" cy="49.4" r="2.15" fill="#ff0000"/><circle cx="492.23" cy="49.31" r="2.15" fill="#ff0000"/><circle cx="493.16" cy="49.21" r="2.15" fill="#ff0000"/><circle cx="494.09" cy="49.12" r="2.15" fill="#ff0000"/><circle cx="495.02" cy="49.02" r="2.15" fill="#ff0000"/><circle cx="495.96" cy="117.26" r="2.15" fill="#ff0000"/><circle cx="496.89" cy="117.35" r="2.15" fill="#ff0000"/><circle cx="497.82" cy="117.45" r="2.15" fill="#ff0000"/><circle cx="498.75" cy="117.54" r="2.15" fill="#ff0000"/><circle cx="499.69" cy="117.64" r="2.15" fill="#ff0000"/><circle cx="500.62" cy="148.32" r="2.15" fill="#ff0000"/><circle cx="501.55" cy="148.71" r="2.15" fill="#ff0000"/><circle cx="502.48" cy="149.09" r="2.15" fill="#ff0000"/><circle cx="503.42" cy="149.47" r="2.15" fill="#ff0000"/><circle cx="504.35" cy="149.85" r="2.15" fill="#ff0000"/><circle cx="505.28" cy="121.45" r="2.15" fill="#ff0000"/><circle cx="506.21" cy="120.97" r="2.15" fill="#ff0000"/><circle cx="507.15" cy="120.5" r="2.15" fill="#ff0000"/><circle cx="508.08" cy="120.02" r="2.15" fill="#ff0000"/><circle cx="509.01" cy="119.54" r="2.15" fill="#ff0000"/><circle cx="509.94" cy="49.4" r="2.15" fill="#ff0000"/><circle cx="510.88" cy="49.12" r="2.15" fill="#ff0000"/><circle cx="511.81" cy="48.83" r="2.15" fill="#ff0000"/><circle cx="512.74" cy="48.55" r="2.15" fill="#ff0000"/><circle cx="513.67" cy="48.26" r="2.15" fill="#ff0000"/><circle cx="514.61" cy="118.02" r="2.15" fill="#ff0000"/><circle cx="515.54" cy="117.92" r="2.15" fill="#ff0000"/><circle cx="516.47" cy="117.83" r="2.15" fill="#ff0000"/><circle cx="517.4" cy="117.73" r="2.15" fill="#ff0000"/><circle cx="518.34" cy="117.64" r="2.15" fill="#ff0000"/><circle cx="519.27" cy="148.9" r="2.15" fill="#ff0000"/><circle cx="520.2" cy="148.66" r="2.15" fill="#ff0000"/><circle cx="521.13" cy="148.42" r="2.15" fill="#ff0000"/><circle cx="522.07" cy="148.18" r="2.15" fill="#ff0000"/><circle cx="523" cy="147.94" r="2.15" fill="#ff0000"/><circle cx="523.93" cy="121.07" r="2.15" fill="#ff0000"/><circle cx="524.87" cy="120.69" r="2.15" fill="#ff0000"/><circle cx="525.8" cy="120.31" r="2.15" fill="#ff0000"/><circle cx="526.73" cy="119.92" r="2.15" fill="#ff0000"/><circle cx="527.66" cy="119.54" r="2.15" fill="#ff0000"/><circle cx="528.6" cy="49.02" r="2.15" fill="#ff0000"/><circle cx="529.53" cy="49.31" r="2.15" fill="#ff0000"/><circle cx="530.46" cy="49.59" r="2.15" fill="#ff0000"/><circle cx="531.39" cy="49.88" r="2.15" fill="#ff0000"/><circle cx="532.32" cy="50.17" r="2.15" fill="#ff0000"/><circle cx="533.26" cy="118.4" r="2.15" fill="#ff0000"/><circle cx="534.19" cy="118.21" r="2.15" fill="#ff0000"/><circle cx="535.12" cy="118.02" r="2.15" fill="#ff0000"/><circle cx="536.05" cy="117.83" r="2.15" fill="#ff0000"/><circle cx="536.99" cy="117.64" r="2.15" fill="#ff0000"/><circle cx="537.92" cy="147.37" r="2.15" fill="#ff0000"/><circle cx="538.85" cy="147.66" r="2.15" fill="#ff0000"/><circle cx="539.78" cy="147.94" r="2.15" fill="#ff0000"/><circle cx="540.72" cy="148.23" r="2.15" fill="#ff0000"/><circle cx="541.65" cy="148.51" r="2.15" fill="#ff0000"/><circle cx="542.58" cy="120.69" r="2.15" fill="#ff0000"/><circle cx="543.51" cy="120.31" r="2.15" fill="#ff0000"/><circle cx="544.45" cy="119.92" r="2.15" fill="#ff0000"/><circle cx="545.38" cy="119.54" r="2.15" fill="#ff0000"/><circle cx="546.31" cy="119.16" r="2.15" fill="#ff0000"/><circle cx="547.25" cy="48.64" r="2.15" fill="#ff0000"/><circle cx="548.18" cy="48.83" r="2.15" fill="#ff0000"/><circle cx="549.11" cy="49.02" r="2.15" fill="#ff0000"/><circle cx="550.04" cy="49.21" r="2.15" fill="#ff0000"/><circle cx="550.98" cy="49.4" r="2.15" fill="#ff0000"/><circle cx="551.91" cy="117.64" r="2.15" fill="#ff0000"/><circle cx="552.84" cy="117.73" r="2.15" fill="#ff0000"/><circle cx="553.77" cy="117.83" r="2.15" fill="#ff0000"/><circle cx="554.7" cy="117.92" r="2.15" fill="#ff0000"/><circle cx="555.64" cy="118.02" r="2.15" fill="#ff0000"/><circle cx="556.57" cy="148.51" r="2.15" fill="#ff0000"/><circle cx="557.5" cy="148.13" r="2.15" fill="#ff0000"/><circle cx="558.43" cy="147.75" r="2.15" fill="#ff0000"/><circle cx="559.37" cy="147.37" r="2.15" fill="#ff0000"/><circle cx="560.3" cy="146.99" r="2.15" fill="#ff0000"/><circle cx="561.23" cy="121.07" r="2.15" fill="#ff0000"/><circle cx="562.16" cy="120.69" r="2.15" fill="#ff0000"/><circle cx="563.1" cy="120.31" r="2.15" fill="#ff0000"/><circle cx="564.03" cy="119.92" r="2.15" fill="#ff0000"/><circle cx="564.96" cy="119.54" r="2.15" fill="#ff0000"/><circle cx="565.89" cy="49.02" r="2.15" fill="#ff0000"/><circle cx="566.83" cy="48.83" r="2.15" fill="#ff0000"/><circle cx="567.76" cy="48.64" r="2.15" fill="#ff0000"/><circle cx="568.69" cy="48.45" r="2.15" fill="#ff0000"/><circle cx="569.62" cy="48.26" r="2.15" fill="#ff0000"/><circle cx="570.56" cy="117.64" r="2.15" fill="#ff0000"/><circle cx="571.49" cy="117.83" r="2.15" fill="#ff0000"/><circle cx="572.42" cy="118.02" r="2.15" fill="#ff0000"/><circle cx="573.36" cy="118.21" r="2.15" fill="#ff0000"/><circle cx="574.29" cy="118.4" r="2.15" fill="#ff0000"/><circle cx="575.22" cy="148.51" r="2.15" fill="#ff0000"/><circle cx="576.15" cy="148.71" r="2.15" fill="#ff0000"/><circle cx="577.09" cy="148.9" r="2.15" fill="#ff0000"/><circle cx="578.02" cy="149.09" r="2.15" fill="#ff0000"/><circle cx="578.95" cy="149.28" r="2.15" fill="#ff0000"/><circle cx="579.88" cy="121.07" r="2.15" fill="#ff0000"/><circle cx="580.81" cy="120.59" r="2.15" fill="#ff0000"/><circle cx="581.75" cy="120.12" r="2.15" fill="#ff0000"/><circle cx="582.68" cy="119.64" r="2.15" fill="#ff0000"/><circle cx="583.61" cy="119.16" r="2.15" fill="#ff0000"/><circle cx="584.54" cy="48.26" r="2.15" fill="#ff0000"/><circle cx="585.48" cy="48.74" r="2.15" fill="#ff0000"/><circle cx="586.41" cy="49.21" r="2.15" fill="#ff0000"/><circle cx="587.34" cy="49.69" r="2.15" fill="#ff0000"/><circle cx="588.27" cy="50.17" r="2.15" fill="#ff0000"/><circle cx="589.21" cy="117.64" r="2.15" fill="#ff0000"/><circle cx="590.14" cy="117.73" r="2.15" fill="#ff0000"/><circle cx="591.07" cy="117.83" r="2.15" fill="#ff0000"/><circle cx="592" cy="117.92" r="2.15" fill="#ff0000"/><circle cx="592.94" cy="118.02" r="2.15" fill="#ff0000"/><circle cx="593.87" cy="149.28" r="2.15" fill="#ff0000"/><circle cx="594.8" cy="149.42" r="2.15" fill="#ff0000"/><circle cx="595.74" cy="149.56" r="2.15" fill="#ff0000"/><circle cx="596.67" cy="149.71" r="2.15" fill="#ff0000"/><circle cx="597.6" cy="149.85" r="2.15" fill="#ff0000"/><circle cx="598.53" cy="121.07" r="2.15" fill="#ff0000"/><circle cx="599.46" cy="120.4" r="2.15" fill="#ff0000"/><circle cx="600.4" cy="119.73" r="2.15" fill="#ff0000"/><circle cx="601.33" cy="119.07" r="2.15" fill="#ff0000"/><circle cx="602.26" cy="118.4" r="2.15" fill="#ff0000"/><circle cx="603.19" cy="49.4" r="2.15" fill="#ff0000"/><circle cx="604.13" cy="48.55" r="2.15" fill="#ff0000"/><circle cx="605.06" cy="47.69" r="2.15" fill="#ff0000"/><circle cx="605.99" cy="46.83" r="2.15" fill="#ff0000"/><circle cx="606.92" cy="45.97" r="2.15" fill="#ff0000"/><circle cx="607.86" cy="118.4" r="2.15" fill="#ff0000"/><circle cx="608.79" cy="118.21" r="2.15" fill="#ff0000"/><circle cx="609.72" cy="118.02" r="2.15" fill="#ff0000"/><circle cx="610.65" cy="117.83" r="2.15" fill="#ff0000"/><circle cx="611.59" cy="117.64" r="2.15" fill="#ff0000"/><circle cx="612.52" cy="149.47" r="2.15" fill="#ff0000"/><circle cx="613.45" cy="148.99" r="2.15" fill="#ff0000"/><circle cx="614.38" cy="148.51" r="2.15" fill="#ff0000"/><circle cx="615.32" cy="148.04" r="2.15" fill="#ff0000"/><circle cx="616.25" cy="147.56" r="2.15" fill="#ff0000"/><circle cx="617.18" cy="121.07" r="2.15" fill="#ff0000"/><circle cx="618.12" cy="120.59" r="2.15" fill="#ff0000"/><circle cx="619.05" cy="120.12" r="2.15" fill="#ff0000"/><circle cx="619.98" cy="119.64" r="2.15" fill="#ff0000"/><circle cx="620.91" cy="119.16" r="2.15" fill="#ff0000"/><circle cx="621.85" cy="49.02" r="2.15" fill="#ff0000"/><circle cx="622.78" cy="49.4" r="2.15" fill="#ff0000"/><circle cx="623.71" cy="49.78" r="2.15" fill="#ff0000"/><circle cx="624.64" cy="50.17" r="2.15" fill="#ff0000"/><circle cx="625.58" cy="50.55" r="2.15" fill="#ff0000"/><circle cx="626.51" cy="117.64" r="2.15" fill="#ff0000"/><circle cx="627.44" cy="117.83" r="2.15" fill="#ff0000"/><circle cx="628.37" cy="118.02" r="2.15" fill="#ff0000"/><circle cx="629.3" cy="118.21" r="2.15" fill="#ff0000"/><circle cx="630.24" cy="118.4" r="2.15" fill="#ff0000"/><circle cx="631.17" cy="149.66" r="2.15" fill="#ff0000"/><circle cx="632.1" cy="149.47" r="2.15" fill="#ff0000"/><circle cx="633.03" cy="149.28" r="2.15" fill="#ff0000"/><circle cx="633.97" cy="149.09" r="2.15" fill="#ff0000"/><circle cx="634.9" cy="148.9" r="2.15" fill="#ff0000"/><circle cx="635.83" cy="121.45" r="2.15" fill="#ff0000"/><circle cx="636.76" cy="120.97" r="2.15" fill="#ff0000"/><circle cx="637.7" cy="120.5" r="2.15" fill="#ff0000"/><circle cx="638.63" cy="120.02" r="2.15" fill="#ff0000"/><circle cx="639.56" cy="119.54" r="2.15" fill="#ff0000"/><circle cx="640.5" cy="49.78" r="2.15" fill="#ff0000"/><circle cx="641.43" cy="49.69" r="2.15" fill="#ff0000"/><circle cx="642.36" cy="49.59" r="2.15" fill="#ff0000"/><circle cx="643.29" cy="49.5" r="2.15" fill="#ff0000"/><circle cx="644.22" cy="49.4" r="2.15" fill="#ff0000"/><circle cx="645.16" cy="118.02" r="2.15" fill="#ff0000"/><circle cx="646.09" cy="118.3" r="2.15" fill="#ff0000"/><circle cx="647.02" cy="118.59" r="2.15" fill="#ff0000"/><circle cx="647.95" cy="118.88" r="2.15" fill="#ff0000"/><circle cx="648.89" cy="119.16" r="2.15" fill="#ff0000"/><circle cx="649.82" cy="147.56" r="2.15" fill="#ff0000"/><circle cx="650.75" cy="147.99" r="2.15" fill="#ff0000"/><circle cx="651.68" cy="148.42" r="2.15" fill="#ff0000"/><circle cx="652.62" cy="148.85" r="2.15" fill="#ff0000"/><circle cx="653.55" cy="149.28" r="2.15" fill="#ff0000"/><circle cx="654.48" cy="120.69" r="2.15" fill="#ff0000"/><circle cx="655.41" cy="120.4" r="2.15" fill="#ff0000"/><circle cx="656.35" cy="120.12" r="2.15" fill="#ff0000"/><circle cx="657.28" cy="119.83" r="2.15" fill="#ff0000"/><circle cx="658.21" cy="119.54" r="2.15" fill="#ff0000"/></g>
<path d="M453.94 59.5L453.12 114.4M457.79 58.36L458.59 109.06M462.52 117.06L463.19 136.89M467.84 115.54L467.19 134.41M472.57 60.26L471.78 104.87M476.44 57.98L477.24 108.11M481.17 116.11L481.84 135.94M486.51 114.01L485.83 135.75M491.24 49.97L490.42 105.63M495.08 47.3L495.9 109.44M499.83 117.83L500.47 135.37M505.14 116.68L504.49 135.75M509.87 62.55L509.09 105.63M513.74 61.03L514.54 108.11M518.47 116.3L519.14 136.13M523.8 116.68L523.13 136.51M528.53 60.26L527.73 106.78M532.39 61.79L533.19 108.68M537.1 116.68L537.8 141.08M542.45 116.68L541.78 136.32M547.19 49.59L546.37 106.39M551.03 48.45L551.85 108.68M555.78 116.68L556.43 134.98M561.1 115.54L560.44 134.98M565.83 51.88L565.02 106.01M569.68 50.73L570.5 108.3M574.42 115.54L575.09 136.32M579.75 115.54L579.08 136.7M584.49 46.54L583.67 105.25M588.33 47.3L589.15 107.92M593.07 115.92L593.73 135.37M598.4 115.16L597.73 135.37M603.13 54.55L602.33 102.96M606.99 55.31L607.8 107.92M611.72 115.92L612.38 135.37M617.05 115.92L616.38 136.13M621.78 59.5L620.98 106.01M625.64 60.26L626.44 107.54M630.36 114.78L631.04 136.51M635.71 114.78L635.03 136.51M640.43 58.36L639.63 105.25M644.29 59.88L645.09 108.3M649.03 116.68L649.68 135.37M654.35 114.78L653.68 134.98" fill="none" stroke="#000" stroke-width="0.6" stroke-opacity="0.5" stroke-dasharray="2.4 12"/>
</g>
<rect x="448.5" y="3.9" width="210.1" height="162.5" fill="none" stroke="#333" stroke-width="0.9"/>
<text x="528.8" y="191.7" font-size="10.6" textLength="50.2" lengthAdjust="spacingAndGlyphs">Time (min)</text>
<text x="427.6" y="133" font-size="11.4" textLength="82.7" lengthAdjust="spacingAndGlyphs" transform="rotate(-90 427.6 133)">Voltage shift (v)</text>
<text x="546.3" y="208.5" font-size="11.8" textLength="15.1" lengthAdjust="spacingAndGlyphs">(b)</text>
<path d="M568.7 12.3H586.1" stroke="#000000" stroke-width="0.55" stroke-opacity="0.7"/>
<rect x="575.6" y="10.5" width="3.6" height="3.6" fill="#000000"/>
<text x="588.8" y="15.1" font-size="8.3" textLength="25" lengthAdjust="spacingAndGlyphs">As-dep</text>
<text x="616.9" y="15.1" font-size="8.3" textLength="4.4" lengthAdjust="spacingAndGlyphs">=</text>
<text x="623.6" y="15.1" font-size="8.3" textLength="31.2" lengthAdjust="spacingAndGlyphs">55.41mV</text>
<path d="M568.7 22.7H586.1" stroke="#ff0000" stroke-width="0.55" stroke-opacity="0.7"/>
<circle cx="577.4" cy="22.7" r="2" fill="#ff0000"/>
<text x="592.6" y="25.5" font-size="8.3" textLength="12.9" lengthAdjust="spacingAndGlyphs">60s</text>
<text x="616.9" y="25.5" font-size="8.3" textLength="4.4" lengthAdjust="spacingAndGlyphs">=</text>
<text x="623.6" y="25.5" font-size="8.3" textLength="26.9" lengthAdjust="spacingAndGlyphs">5.57mV</text>
<path d="M249.7 347.05L307.59 343.45L322.54 340.05L331.28 337.05L337.49 333.85L342.3 330.85L346.23 328.65L349.55 325.45L352.43 321.85L354.97 319.45L357.24 317.05L359.3 314.65L361.17 311.72L362.9 308.8L364.5 305.84L365.99 302.82L367.38 299.8L368.68 296.77L369.92 293.75L371.08 290.73L372.19 287.7L373.24 284.68L374.24 281.66L375.2 279.05L376.12 276.65L377 274.25L377.85 271.85L378.66 269.45L379.44 267.05L380.2 264.65L380.93 262.25L381.64 259.85L382.32 257.45L382.99 255.05L383.63 252.65L384.26 250.22L384.86 247.73L385.45 245.24L386.03 242.75L386.59 240.26L387.14 237.77L387.67 235.28L388.19 232.79L388.69 230.3L389.19 227.81L389.67 225.32L390.15 222.83L390.61 220.34L391.07 217.85" fill="none" stroke="#000000" stroke-width="0.45" stroke-opacity="0.55"/>
<g><rect x="248.15" y="345.5" width="3.1" height="3.1" fill="#000000"/><rect x="306.04" y="341.9" width="3.1" height="3.1" fill="#000000"/><rect x="320.99" y="338.5" width="3.1" height="3.1" fill="#000000"/><rect x="329.73" y="335.5" width="3.1" height="3.1" fill="#000000"/><rect x="335.94" y="332.3" width="3.1" height="3.1" fill="#000000"/><rect x="340.75" y="329.3" width="3.1" height="3.1" fill="#000000"/><rect x="344.68" y="327.1" width="3.1" height="3.1" fill="#000000"/><rect x="348" y="323.9" width="3.1" height="3.1" fill="#000000"/><rect x="350.88" y="320.3" width="3.1" height="3.1" fill="#000000"/><rect x="353.42" y="317.9" width="3.1" height="3.1" fill="#000000"/><rect x="355.69" y="315.5" width="3.1" height="3.1" fill="#000000"/><rect x="357.75" y="313.1" width="3.1" height="3.1" fill="#000000"/><rect x="359.62" y="310.17" width="3.1" height="3.1" fill="#000000"/><rect x="361.35" y="307.25" width="3.1" height="3.1" fill="#000000"/><rect x="362.95" y="304.29" width="3.1" height="3.1" fill="#000000"/><rect x="364.44" y="301.27" width="3.1" height="3.1" fill="#000000"/><rect x="365.83" y="298.25" width="3.1" height="3.1" fill="#000000"/><rect x="367.13" y="295.22" width="3.1" height="3.1" fill="#000000"/><rect x="368.37" y="292.2" width="3.1" height="3.1" fill="#000000"/><rect x="369.53" y="289.18" width="3.1" height="3.1" fill="#000000"/><rect x="370.64" y="286.15" width="3.1" height="3.1" fill="#000000"/><rect x="371.69" y="283.13" width="3.1" height="3.1" fill="#000000"/><rect x="372.69" y="280.11" width="3.1" height="3.1" fill="#000000"/><rect x="373.65" y="277.5" width="3.1" height="3.1" fill="#000000"/><rect x="374.57" y="275.1" width="3.1" height="3.1" fill="#000000"/><rect x="375.45" y="272.7" width="3.1" height="3.1" fill="#000000"/><rect x="376.3" y="270.3" width="3.1" height="3.1" fill="#000000"/><rect x="377.11" y="267.9" width="3.1" height="3.1" fill="#000000"/><rect x="377.89" y="265.5" width="3.1" height="3.1" fill="#000000"/><rect x="378.65" y="263.1" width="3.1" height="3.1" fill="#000000"/><rect x="379.38" y="260.7" width="3.1" height="3.1" fill="#000000"/><rect x="380.09" y="258.3" width="3.1" height="3.1" fill="#000000"/><rect x="380.77" y="255.9" width="3.1" height="3.1" fill="#000000"/><rect x="381.44" y="253.5" width="3.1" height="3.1" fill="#000000"/><rect x="382.08" y="251.1" width="3.1" height="3.1" fill="#000000"/><rect x="382.71" y="248.67" width="3.1" height="3.1" fill="#000000"/><rect x="383.31" y="246.18" width="3.1" height="3.1" fill="#000000"/><rect x="383.9" y="243.69" width="3.1" height="3.1" fill="#000000"/><rect x="384.48" y="241.2" width="3.1" height="3.1" fill="#000000"/><rect x="385.04" y="238.71" width="3.1" height="3.1" fill="#000000"/><rect x="385.59" y="236.22" width="3.1" height="3.1" fill="#000000"/><rect x="386.12" y="233.73" width="3.1" height="3.1" fill="#000000"/><rect x="386.64" y="231.24" width="3.1" height="3.1" fill="#000000"/><rect x="387.14" y="228.75" width="3.1" height="3.1" fill="#000000"/><rect x="387.64" y="226.26" width="3.1" height="3.1" fill="#000000"/><rect x="388.12" y="223.77" width="3.1" height="3.1" fill="#000000"/><rect x="388.6" y="221.28" width="3.1" height="3.1" fill="#000000"/><rect x="389.06" y="218.79" width="3.1" height="3.1" fill="#000000"/><rect x="389.52" y="216.3" width="3.1" height="3.1" fill="#000000"/></g>
<path d="M249.7 347.05L307.59 343.93L322.54 341.65L331.28 339.45L337.49 338.05L342.3 335.45L346.23 333.45L349.55 331.85L352.43 330.85L354.97 329.35L357.24 327.85L359.3 326.35L361.17 324.85L362.9 323.35L364.5 321.9L365.99 320.6L367.38 319.3L368.68 318L369.92 316.69L371.08 315.39L372.19 314.09L373.24 312.79L374.24 311.48L375.2 310.23L376.12 309L377 307.76L377.85 306.53L378.66 305.3L379.44 304.07L380.2 302.83L380.93 301.6L381.64 300.37L382.32 299.14L382.99 297.9L383.63 296.67L384.26 295.35L384.86 293.85L385.45 292.35L386.03 290.85L386.59 289.35L387.14 287.85L387.67 286.35L388.19 284.85L388.69 283.35L389.19 281.85L389.67 280.35L390.15 278.85L390.61 277.35L391.07 275.85" fill="none" stroke="#ff0000" stroke-width="0.45" stroke-opacity="0.55"/>
<g><circle cx="249.7" cy="347.05" r="1.8" fill="#ff0000"/><circle cx="307.59" cy="343.93" r="1.8" fill="#ff0000"/><circle cx="322.54" cy="341.65" r="1.8" fill="#ff0000"/><circle cx="331.28" cy="339.45" r="1.8" fill="#ff0000"/><circle cx="337.49" cy="338.05" r="1.8" fill="#ff0000"/><circle cx="342.3" cy="335.45" r="1.8" fill="#ff0000"/><circle cx="346.23" cy="333.45" r="1.8" fill="#ff0000"/><circle cx="349.55" cy="331.85" r="1.8" fill="#ff0000"/><circle cx="352.43" cy="330.85" r="1.8" fill="#ff0000"/><circle cx="354.97" cy="329.35" r="1.8" fill="#ff0000"/><circle cx="357.24" cy="327.85" r="1.8" fill="#ff0000"/><circle cx="359.3" cy="326.35" r="1.8" fill="#ff0000"/><circle cx="361.17" cy="324.85" r="1.8" fill="#ff0000"/><circle cx="362.9" cy="323.35" r="1.8" fill="#ff0000"/><circle cx="364.5" cy="321.9" r="1.8" fill="#ff0000"/><circle cx="365.99" cy="320.6" r="1.8" fill="#ff0000"/><circle cx="367.38" cy="319.3" r="1.8" fill="#ff0000"/><circle cx="368.68" cy="318" r="1.8" fill="#ff0000"/><circle cx="369.92" cy="316.69" r="1.8" fill="#ff0000"/><circle cx="371.08" cy="315.39" r="1.8" fill="#ff0000"/><circle cx="372.19" cy="314.09" r="1.8" fill="#ff0000"/><circle cx="373.24" cy="312.79" r="1.8" fill="#ff0000"/><circle cx="374.24" cy="311.48" r="1.8" fill="#ff0000"/><circle cx="375.2" cy="310.23" r="1.8" fill="#ff0000"/><circle cx="376.12" cy="309" r="1.8" fill="#ff0000"/><circle cx="377" cy="307.76" r="1.8" fill="#ff0000"/><circle cx="377.85" cy="306.53" r="1.8" fill="#ff0000"/><circle cx="378.66" cy="305.3" r="1.8" fill="#ff0000"/><circle cx="379.44" cy="304.07" r="1.8" fill="#ff0000"/><circle cx="380.2" cy="302.83" r="1.8" fill="#ff0000"/><circle cx="380.93" cy="301.6" r="1.8" fill="#ff0000"/><circle cx="381.64" cy="300.37" r="1.8" fill="#ff0000"/><circle cx="382.32" cy="299.14" r="1.8" fill="#ff0000"/><circle cx="382.99" cy="297.9" r="1.8" fill="#ff0000"/><circle cx="383.63" cy="296.67" r="1.8" fill="#ff0000"/><circle cx="384.26" cy="295.35" r="1.8" fill="#ff0000"/><circle cx="384.86" cy="293.85" r="1.8" fill="#ff0000"/><circle cx="385.45" cy="292.35" r="1.8" fill="#ff0000"/><circle cx="386.03" cy="290.85" r="1.8" fill="#ff0000"/><circle cx="386.59" cy="289.35" r="1.8" fill="#ff0000"/><circle cx="387.14" cy="287.85" r="1.8" fill="#ff0000"/><circle cx="387.67" cy="286.35" r="1.8" fill="#ff0000"/><circle cx="388.19" cy="284.85" r="1.8" fill="#ff0000"/><circle cx="388.69" cy="283.35" r="1.8" fill="#ff0000"/><circle cx="389.19" cy="281.85" r="1.8" fill="#ff0000"/><circle cx="389.67" cy="280.35" r="1.8" fill="#ff0000"/><circle cx="390.15" cy="278.85" r="1.8" fill="#ff0000"/><circle cx="390.61" cy="277.35" r="1.8" fill="#ff0000"/><circle cx="391.07" cy="275.85" r="1.8" fill="#ff0000"/></g>
<path d="M249.7 347.05L307.59 346.65L322.54 345.65L331.28 337.85L337.49 334.45L342.3 331.85L346.23 330.25L349.55 329.45L352.43 328.05L354.97 327.18L357.24 326.31L359.3 325.43L361.17 324.56L362.9 323.69L364.5 322.86L365.99 322.17L367.38 321.47L368.68 320.77L369.92 320.07L371.08 319.38L372.19 318.68L373.24 317.98L374.24 317.28L375.2 316.73L376.12 316.24L377 315.75L377.85 315.27L378.66 314.78L379.44 314.29L380.2 313.81L380.93 313.32L381.64 312.83L382.32 312.35L382.99 311.86L383.63 311.37L384.26 310.88L384.86 310.38L385.45 309.88L386.03 309.38L386.59 308.88L387.14 308.38L387.67 307.88L388.19 307.38L388.69 306.65L389.19 305.45L389.67 304.25L390.15 303.05L390.61 301.85L391.07 300.65" fill="none" stroke="#0000ff" stroke-width="0.45" stroke-opacity="0.55"/>
<g><path d="M247.48 348.6h4.44L249.7 344.9Z" fill="#0000ff"/><path d="M305.37 348.2h4.44L307.59 344.5Z" fill="#0000ff"/><path d="M320.32 347.2h4.44L322.54 343.5Z" fill="#0000ff"/><path d="M329.06 339.4h4.44L331.28 335.7Z" fill="#0000ff"/><path d="M335.27 336h4.44L337.49 332.3Z" fill="#0000ff"/><path d="M340.08 333.4h4.44L342.3 329.7Z" fill="#0000ff"/><path d="M344.01 331.8h4.44L346.23 328.1Z" fill="#0000ff"/><path d="M347.33 331h4.44L349.55 327.3Z" fill="#0000ff"/><path d="M350.21 329.6h4.44L352.43 325.9Z" fill="#0000ff"/><path d="M352.75 328.73h4.44L354.97 325.03Z" fill="#0000ff"/><path d="M355.02 327.86h4.44L357.24 324.16Z" fill="#0000ff"/><path d="M357.08 326.99h4.44L359.3 323.29Z" fill="#0000ff"/><path d="M358.95 326.12h4.44L361.17 322.42Z" fill="#0000ff"/><path d="M360.68 325.24h4.44L362.9 321.54Z" fill="#0000ff"/><path d="M362.28 324.42h4.44L364.5 320.72Z" fill="#0000ff"/><path d="M363.77 323.72h4.44L365.99 320.02Z" fill="#0000ff"/><path d="M365.16 323.02h4.44L367.38 319.32Z" fill="#0000ff"/><path d="M366.46 322.32h4.44L368.68 318.62Z" fill="#0000ff"/><path d="M367.7 321.63h4.44L369.92 317.93Z" fill="#0000ff"/><path d="M368.86 320.93h4.44L371.08 317.23Z" fill="#0000ff"/><path d="M369.97 320.23h4.44L372.19 316.53Z" fill="#0000ff"/><path d="M371.02 319.53h4.44L373.24 315.83Z" fill="#0000ff"/><path d="M372.02 318.84h4.44L374.24 315.14Z" fill="#0000ff"/><path d="M372.98 318.28h4.44L375.2 314.58Z" fill="#0000ff"/><path d="M373.9 317.79h4.44L376.12 314.09Z" fill="#0000ff"/><path d="M374.78 317.31h4.44L377 313.61Z" fill="#0000ff"/><path d="M375.63 316.82h4.44L377.85 313.12Z" fill="#0000ff"/><path d="M376.44 316.33h4.44L378.66 312.63Z" fill="#0000ff"/><path d="M377.22 315.85h4.44L379.44 312.15Z" fill="#0000ff"/><path d="M377.98 315.36h4.44L380.2 311.66Z" fill="#0000ff"/><path d="M378.71 314.87h4.44L380.93 311.17Z" fill="#0000ff"/><path d="M379.42 314.39h4.44L381.64 310.69Z" fill="#0000ff"/><path d="M380.1 313.9h4.44L382.32 310.2Z" fill="#0000ff"/><path d="M380.77 313.41h4.44L382.99 309.71Z" fill="#0000ff"/><path d="M381.41 312.93h4.44L383.63 309.23Z" fill="#0000ff"/><path d="M382.04 312.44h4.44L384.26 308.74Z" fill="#0000ff"/><path d="M382.64 311.94h4.44L384.86 308.24Z" fill="#0000ff"/><path d="M383.23 311.44h4.44L385.45 307.74Z" fill="#0000ff"/><path d="M383.81 310.94h4.44L386.03 307.24Z" fill="#0000ff"/><path d="M384.37 310.44h4.44L386.59 306.74Z" fill="#0000ff"/><path d="M384.92 309.94h4.44L387.14 306.24Z" fill="#0000ff"/><path d="M385.45 309.44h4.44L387.67 305.74Z" fill="#0000ff"/><path d="M385.97 308.94h4.44L388.19 305.24Z" fill="#0000ff"/><path d="M386.47 308.2h4.44L388.69 304.5Z" fill="#0000ff"/><path d="M386.97 307h4.44L389.19 303.3Z" fill="#0000ff"/><path d="M387.45 305.8h4.44L389.67 302.1Z" fill="#0000ff"/><path d="M387.93 304.6h4.44L390.15 300.9Z" fill="#0000ff"/><path d="M388.39 303.4h4.44L390.61 299.7Z" fill="#0000ff"/><path d="M388.85 302.2h4.44L391.07 298.5Z" fill="#0000ff"/></g>
<path d="M249.7 347.05L307.59 346.65L322.54 345.57L331.28 345.05L337.49 344.45L342.3 343.93L346.23 343.45L349.55 342.88L352.43 342.31L354.97 341.74L357.24 341.17L359.3 340.61L361.17 340.04L362.9 339.47L364.5 338.94L365.99 338.52L367.38 338.1L368.68 337.68L369.92 337.26L371.08 336.85L372.19 336.43L373.24 336.01L374.24 335.59L375.2 335.21L376.12 334.86L377 334.5L377.85 334.14L378.66 333.79L379.44 333.43L380.2 333.07L380.93 332.71L381.64 332.36L382.32 332L382.99 331.64L383.63 331.29L384.26 330.9L384.86 330.45L385.45 330L386.03 329.55L386.59 329.1L387.14 328.65L387.67 328.2L388.19 327.75L388.69 327.28L389.19 326.75L389.67 326.23L390.15 325.7L390.61 325.18L391.07 324.65" fill="none" stroke="#008080" stroke-width="0.45" stroke-opacity="0.55"/>
<g><path d="M247.48 345.5h4.44L249.7 349.2Z" fill="#008080"/><path d="M305.37 345.1h4.44L307.59 348.8Z" fill="#008080"/><path d="M320.32 344.02h4.44L322.54 347.72Z" fill="#008080"/><path d="M329.06 343.5h4.44L331.28 347.2Z" fill="#008080"/><path d="M335.27 342.9h4.44L337.49 346.6Z" fill="#008080"/><path d="M340.08 342.38h4.44L342.3 346.08Z" fill="#008080"/><path d="M344.01 341.9h4.44L346.23 345.6Z" fill="#008080"/><path d="M347.33 341.33h4.44L349.55 345.03Z" fill="#008080"/><path d="M350.21 340.76h4.44L352.43 344.46Z" fill="#008080"/><path d="M352.75 340.19h4.44L354.97 343.89Z" fill="#008080"/><path d="M355.02 339.62h4.44L357.24 343.32Z" fill="#008080"/><path d="M357.08 339.05h4.44L359.3 342.75Z" fill="#008080"/><path d="M358.95 338.48h4.44L361.17 342.18Z" fill="#008080"/><path d="M360.68 337.91h4.44L362.9 341.61Z" fill="#008080"/><path d="M362.28 337.38h4.44L364.5 341.08Z" fill="#008080"/><path d="M363.77 336.97h4.44L365.99 340.67Z" fill="#008080"/><path d="M365.16 336.55h4.44L367.38 340.25Z" fill="#008080"/><path d="M366.46 336.13h4.44L368.68 339.83Z" fill="#008080"/><path d="M367.7 335.71h4.44L369.92 339.41Z" fill="#008080"/><path d="M368.86 335.29h4.44L371.08 338.99Z" fill="#008080"/><path d="M369.97 334.87h4.44L372.19 338.57Z" fill="#008080"/><path d="M371.02 334.45h4.44L373.24 338.15Z" fill="#008080"/><path d="M372.02 334.04h4.44L374.24 337.74Z" fill="#008080"/><path d="M372.98 333.66h4.44L375.2 337.36Z" fill="#008080"/><path d="M373.9 333.3h4.44L376.12 337Z" fill="#008080"/><path d="M374.78 332.94h4.44L377 336.64Z" fill="#008080"/><path d="M375.63 332.59h4.44L377.85 336.29Z" fill="#008080"/><path d="M376.44 332.23h4.44L378.66 335.93Z" fill="#008080"/><path d="M377.22 331.87h4.44L379.44 335.57Z" fill="#008080"/><path d="M377.98 331.52h4.44L380.2 335.22Z" fill="#008080"/><path d="M378.71 331.16h4.44L380.93 334.86Z" fill="#008080"/><path d="M379.42 330.8h4.44L381.64 334.5Z" fill="#008080"/><path d="M380.1 330.45h4.44L382.32 334.15Z" fill="#008080"/><path d="M380.77 330.09h4.44L382.99 333.79Z" fill="#008080"/><path d="M381.41 329.73h4.44L383.63 333.43Z" fill="#008080"/><path d="M382.04 329.35h4.44L384.26 333.05Z" fill="#008080"/><path d="M382.64 328.9h4.44L384.86 332.6Z" fill="#008080"/><path d="M383.23 328.45h4.44L385.45 332.15Z" fill="#008080"/><path d="M383.81 328h4.44L386.03 331.7Z" fill="#008080"/><path d="M384.37 327.55h4.44L386.59 331.25Z" fill="#008080"/><path d="M384.92 327.1h4.44L387.14 330.8Z" fill="#008080"/><path d="M385.45 326.65h4.44L387.67 330.35Z" fill="#008080"/><path d="M385.97 326.2h4.44L388.19 329.9Z" fill="#008080"/><path d="M386.47 325.72h4.44L388.69 329.42Z" fill="#008080"/><path d="M386.97 325.2h4.44L389.19 328.9Z" fill="#008080"/><path d="M387.45 324.67h4.44L389.67 328.37Z" fill="#008080"/><path d="M387.93 324.15h4.44L390.15 327.85Z" fill="#008080"/><path d="M388.39 323.62h4.44L390.61 327.32Z" fill="#008080"/><path d="M388.85 323.1h4.44L391.07 326.8Z" fill="#008080"/></g>
<rect x="249.6" y="203.5" width="198.7" height="147.7" fill="none" stroke="#000" stroke-width="1.3"/>
<text x="246.4" y="350.25" font-size="9.1" text-anchor="end">0</text>
<text x="246.4" y="330.25" font-size="9.1" text-anchor="end">5</text>
<text x="246.4" y="310.25" font-size="9.1" text-anchor="end">10</text>
<text x="246.4" y="290.25" font-size="9.1" text-anchor="end">15</text>
<text x="246.4" y="270.25" font-size="9.1" text-anchor="end">20</text>
<text x="246.4" y="250.25" font-size="9.1" text-anchor="end">25</text>
<text x="246.4" y="230.25" font-size="9.1" text-anchor="end">30</text>
<text x="246.4" y="210.25" font-size="9.1" text-anchor="end">35</text>
<text x="243" y="363.7" font-size="9.5" stroke="#000" stroke-width="0.2">10<tspan dy="-4.6" font-size="5.6" stroke="none">0</tspan></text>
<text x="292.65" y="363.7" font-size="9.5" stroke="#000" stroke-width="0.2">10<tspan dy="-4.6" font-size="5.6" stroke="none">1</tspan></text>
<text x="342.3" y="363.7" font-size="9.5" stroke="#000" stroke-width="0.2">10<tspan dy="-4.6" font-size="5.6" stroke="none">2</tspan></text>
<text x="391.95" y="363.7" font-size="9.5" stroke="#000" stroke-width="0.2">10<tspan dy="-4.6" font-size="5.6" stroke="none">3</tspan></text>
<text x="441.6" y="363.7" font-size="9.5" stroke="#000" stroke-width="0.2">10<tspan dy="-4.6" font-size="5.6" stroke="none">4</tspan></text>
<path d="M249.6 347.05h2.8M249.6 327.05h2.8M249.6 307.05h2.8M249.6 287.05h2.8M249.6 267.05h2.8M249.6 247.05h2.8M249.6 227.05h2.8M249.6 207.05h2.8M249.6 337.05h1.6M249.6 317.05h1.6M249.6 297.05h1.6M249.6 277.05h1.6M249.6 257.05h1.6M249.6 237.05h1.6M249.6 217.05h1.6M249.6 351.2v-2.8M264.55 351.2v-1.6M273.29 351.2v-1.6M279.49 351.2v-1.6M284.3 351.2v-1.6M288.24 351.2v-1.6M291.56 351.2v-1.6M294.44 351.2v-1.6M296.98 351.2v-1.6M299.25 351.2v-2.8M314.2 351.2v-1.6M322.94 351.2v-1.6M329.14 351.2v-1.6M333.95 351.2v-1.6M337.89 351.2v-1.6M341.21 351.2v-1.6M344.09 351.2v-1.6M346.63 351.2v-1.6M348.9 351.2v-2.8M363.85 351.2v-1.6M372.59 351.2v-1.6M378.79 351.2v-1.6M383.6 351.2v-1.6M387.54 351.2v-1.6M390.86 351.2v-1.6M393.74 351.2v-1.6M396.28 351.2v-1.6M398.55 351.2v-2.8M413.5 351.2v-1.6M422.24 351.2v-1.6M428.44 351.2v-1.6M433.25 351.2v-1.6M437.19 351.2v-1.6M440.51 351.2v-1.6M443.39 351.2v-1.6M445.93 351.2v-1.6M448.2 351.2v-2.8" stroke="#000" stroke-width="1" fill="none"/>
<text x="325.8" y="374" font-size="9.3" textLength="46" lengthAdjust="spacingAndGlyphs">Time (min)</text>
<text x="234" y="320" font-size="9.4" textLength="81.4" lengthAdjust="spacingAndGlyphs" transform="rotate(-90 234 320)">Voltage Shift (mV)</text>
<text x="263.9" y="223.0" font-size="8.6">MgO EIS +CF<tspan dy="2.9" font-size="9.5">4</tspan><tspan dy="-2.9"> Plasma</tspan></text>
<path d="M259.9 235.7H278.1" stroke="#000000" stroke-width="0.55" stroke-opacity="0.55"/>
<rect x="267.35" y="234.05" width="3.3" height="3.3" fill="#000000"/>
<text x="280.7" y="238.5" font-size="7.9" textLength="25.3" lengthAdjust="spacingAndGlyphs">as-dep</text>
<text x="310.6" y="238.5" font-size="7.9" textLength="4" lengthAdjust="spacingAndGlyphs">=</text>
<text x="359.7" y="238.5" font-size="7.9" text-anchor="end">13.53mV/hr</text>
<path d="M259.9 245.8H278.1" stroke="#ff0000" stroke-width="0.55" stroke-opacity="0.55"/>
<circle cx="269" cy="245.8" r="1.85" fill="#ff0000"/>
<text x="287.9" y="248.6" font-size="7.9" textLength="12.3" lengthAdjust="spacingAndGlyphs">15s</text>
<text x="310.6" y="248.6" font-size="7.9" textLength="4" lengthAdjust="spacingAndGlyphs">=</text>
<text x="358.6" y="248.6" font-size="7.9" text-anchor="end">1.48mV/hr</text>
<path d="M259.9 256.0H278.1" stroke="#0000ff" stroke-width="0.55" stroke-opacity="0.55"/>
<path d="M266.72 257.6h4.56L269 253.8Z" fill="#0000ff"/>
<text x="287.9" y="258.8" font-size="7.9" textLength="12.3" lengthAdjust="spacingAndGlyphs">30s</text>
<text x="310.6" y="258.8" font-size="7.9" textLength="4" lengthAdjust="spacingAndGlyphs">=</text>
<text x="358.6" y="258.8" font-size="7.9" text-anchor="end">1.27mV/hr</text>
<path d="M259.9 266.3H278.1" stroke="#008080" stroke-width="0.55" stroke-opacity="0.55"/>
<path d="M266.72 264.7h4.56L269 268.5Z" fill="#008080"/>
<text x="287.9" y="269.1" font-size="7.9" textLength="12.3" lengthAdjust="spacingAndGlyphs">60s</text>
<text x="310.6" y="269.1" font-size="7.9" textLength="4" lengthAdjust="spacingAndGlyphs">=</text>
<text x="358.6" y="269.1" font-size="7.9" text-anchor="end">1.03mV/hr</text>
</g>
</svg>
</body>
</html>
